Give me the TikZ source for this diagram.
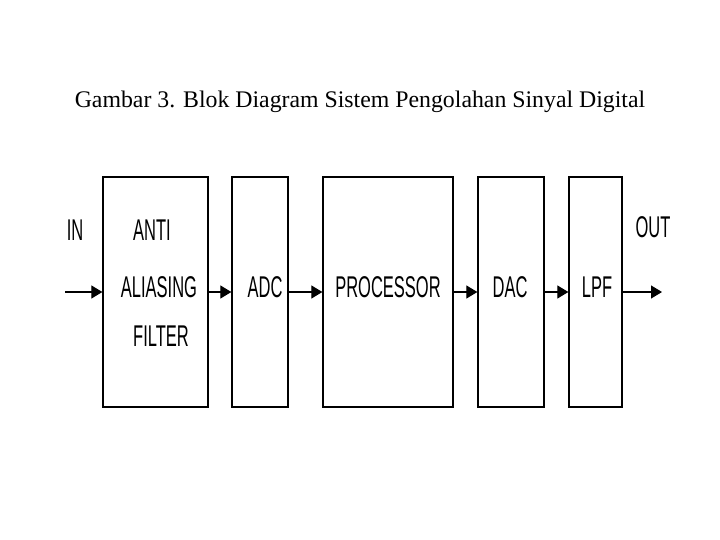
\documentclass[tikz,border=0pt]{standalone}
\usepackage{fontspec}
\usepackage{graphicx}
\setmainfont{Liberation Serif}
\newfontfamily\lbl{Liberation Sans}
\usetikzlibrary{arrows.meta}
\begin{document}
\begin{tikzpicture}[x=1pt,y=-1pt,
  blk/.style={draw,line width=1.3pt,inner sep=0pt},
  lab/.style={inner sep=0pt,font=\lbl\fontsize{30}{32}\selectfont},
  arr/.style={line width=1.2pt,-{Triangle[length=11pt,width=13pt]}}]
\useasboundingbox (0,0) rectangle (720,540);
\node[inner sep=0pt,font=\fontsize{23.8}{26}\selectfont] (title) at (360,102) {Gambar 3. Blok Diagram Sistem Pengolahan Sinyal Digital};
\node[blk,minimum width=105pt,minimum height=230pt] (b1) at (155.5,292) {};
\node[blk,minimum width=56pt,minimum height=230pt] (b2) at (260,292) {};
\node[blk,minimum width=130pt,minimum height=230pt] (b3) at (388,292) {};
\node[blk,minimum width=66pt,minimum height=230pt] (b4) at (511,292) {};
\node[blk,minimum width=53pt,minimum height=230pt] (b5) at (595.5,292) {};
\coordinate (in) at (65,292);
\coordinate (out) at (662,292);
\node[lab] (tin) at (75,230) {\scalebox{0.55}[1]{IN}};
\node[lab] (t1a) at (152,230) {\scalebox{0.55}[1]{ANTI}};
\node[lab] (t1b) at (159,287) {\scalebox{0.55}[1]{ALIASING}};
\node[lab] (t1c) at (161,336) {\scalebox{0.55}[1]{FILTER}};
\node[lab] (t2) at (265,287) {\scalebox{0.55}[1]{ADC}};
\node[lab] (t3) at (388,287) {\scalebox{0.55}[1]{PROCESSOR}};
\node[lab] (t4) at (510,287) {\scalebox{0.55}[1]{DAC}};
\node[lab] (t5) at (597,287) {\scalebox{0.55}[1]{LPF}};
\node[lab] (tout) at (653,227) {\scalebox{0.55}[1]{OUT}};
\draw[arr] (in) -- (b1.west);
\draw[arr] (b1.east) -- (b2.west);
\draw[arr] (b2.east) -- (b3.west);
\draw[arr] (b3.east) -- (b4.west);
\draw[arr] (b4.east) -- (b5.west);
\draw[arr] (b5.east) -- (out);
\end{tikzpicture}
\end{document}
